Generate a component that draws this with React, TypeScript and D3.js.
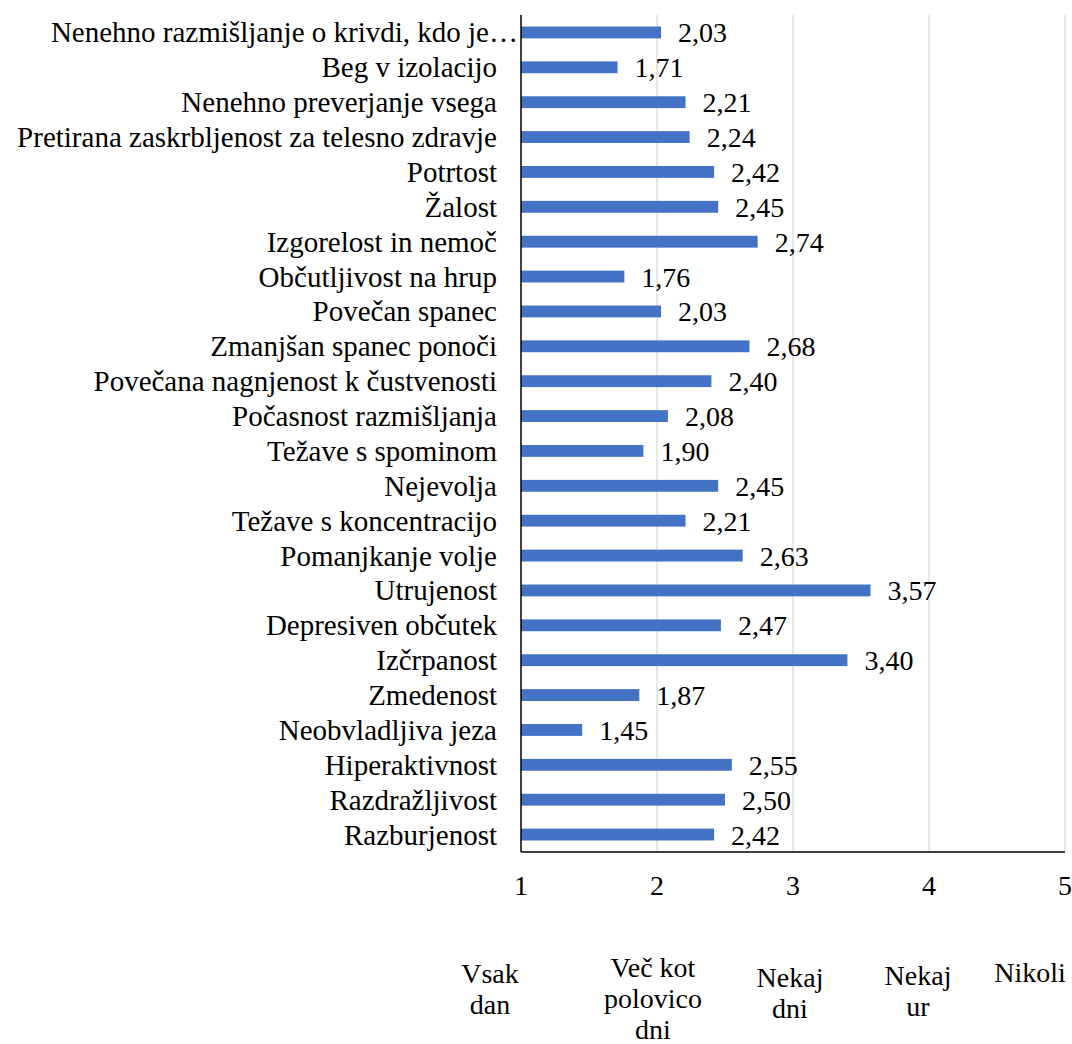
import React, { useEffect, useRef } from "react";
import * as d3 from "d3";

// categories top to bottom
const categories = [
  "Nenehno razmišljanje o krivdi, kdo je…",
  "Beg v izolacijo",
  "Nenehno preverjanje vsega",
  "Pretirana zaskrbljenost za telesno zdravje",
  "Potrtost",
  "Žalost",
  "Izgorelost in nemoč",
  "Občutljivost na hrup",
  "Povečan spanec",
  "Zmanjšan spanec ponoči",
  "Povečana nagnjenost k čustvenosti",
  "Počasnost razmišljanja",
  "Težave s spominom",
  "Nejevolja",
  "Težave s koncentracijo",
  "Pomanjkanje volje",
  "Utrujenost",
  "Depresiven občutek",
  "Izčrpanost",
  "Zmedenost",
  "Neobvladljiva jeza",
  "Hiperaktivnost",
  "Razdražljivost",
  "Razburjenost",
];

const values = [
  2.03, 1.71, 2.21, 2.24, 2.42, 2.45, 2.74, 1.76, 2.03, 2.68, 2.4, 2.08, 1.9,
  2.45, 2.21, 2.63, 3.57, 2.47, 3.4, 1.87, 1.45, 2.55, 2.5, 2.42,
];

const ticks = [1, 2, 3, 4, 5];

// answer scale shown under the axis
const scaleLabels = [
  { tick: 1, lines: ["Vsak", "dan"] },
  { tick: 2, lines: ["Več kot", "polovico", "dni"] },
  { tick: 3, lines: ["Nekaj", "dni"] },
  { tick: 4, lines: ["Nekaj", "ur"] },
  { tick: 5, lines: ["Nikoli"] },
];

const FONT = '"Liberation Serif", "Times New Roman", serif';

export default function App() {
  const ref = useRef<SVGSVGElement>(null);

  useEffect(() => {
    const w = 1072;
    const h = 1044;
    const left = 521;
    const right = 1065;
    const top = 15;
    const bottom = 852;

    const svg = d3.select(ref.current);
    svg.selectAll("*").remove();
    svg.attr("width", w).attr("height", h);

    const x = d3.scaleLinear().domain([1, 5]).range([left, right]);
    const y = d3
      .scaleBand()
      .domain(categories)
      .range([top, bottom])
      .paddingInner(0.66)
      .paddingOuter(0.33);

    // gridlines
    svg
      .append("g")
      .selectAll("line")
      .data(ticks.slice(1))
      .join("line")
      .attr("x1", (d) => x(d))
      .attr("x2", (d) => x(d))
      .attr("y1", top)
      .attr("y2", bottom)
      .attr("stroke", "#d9d9d9")
      .attr("stroke-width", 1.3);

    // bars
    const data = categories.map((c, i) => ({ c, v: values[i] }));
    svg
      .append("g")
      .selectAll("rect")
      .data(data)
      .join("rect")
      .attr("x", x(1))
      .attr("y", (d) => y(d.c)!)
      .attr("width", (d) => x(d.v) - x(1))
      .attr("height", y.bandwidth())
      .attr("fill", "#4472c4");

    // value labels
    svg
      .append("g")
      .selectAll("text")
      .data(data)
      .join("text")
      .attr("x", (d) => x(d.v) + 17)
      .attr("y", (d) => y(d.c)! + y.bandwidth() / 2 + 10)
      .style("font-family", FONT)
      .style("font-size", "28px")
      .attr("fill", "#000")
      .text((d) => d.v.toFixed(2).replace(".", ","));

    // category labels (truncated one lets its ellipsis run up to the axis)
    svg
      .append("g")
      .selectAll("text")
      .data(categories)
      .join("text")
      .attr("x", (d) => left - 24 + (d.endsWith("…") ? 21 : 0))
      .attr("y", (d) => y(d)! + y.bandwidth() / 2 + 10)
      .attr("text-anchor", "end")
      .style("font-family", FONT)
      .style("font-size", "29px")
      .attr("fill", "#000")
      .text((d) => d);

    // axes lines
    svg
      .append("line")
      .attr("x1", left)
      .attr("x2", left)
      .attr("y1", top)
      .attr("y2", bottom)
      .attr("stroke", "#000")
      .attr("stroke-width", 1.5);
    svg
      .append("line")
      .attr("x1", left)
      .attr("x2", right)
      .attr("y1", bottom)
      .attr("y2", bottom)
      .attr("stroke", "#000")
      .attr("stroke-width", 1.5);

    // tick labels
    svg
      .append("g")
      .selectAll("text")
      .data(ticks)
      .join("text")
      .attr("x", (d) => x(d))
      .attr("y", 895)
      .attr("text-anchor", "middle")
      .style("font-family", FONT)
      .style("font-size", "28px")
      .attr("fill", "#000")
      .text((d) => d);

    // scale meaning labels
    const offsets: Record<number, [number, number]> = {
      1: [-31, 983],
      2: [-4, 977],
      3: [-3, 987],
      4: [-11, 985],
      5: [-35, 982],
    };
    const g = svg.append("g");
    scaleLabels.forEach((s) => {
      const [dx, baseY] = offsets[s.tick];
      const t = g
        .append("text")
        .attr("text-anchor", "middle")
        .style("font-family", FONT)
        .style("font-size", "28px")
        .attr("fill", "#000");
      s.lines.forEach((line, i) => {
        t.append("tspan")
          .attr("x", x(s.tick) + dx)
          .attr("y", baseY + i * 31)
          .text(line);
      });
    });
  }, []);

  return (
    <div style={{ position: "absolute", left: 0, top: 0 }}>
      <svg ref={ref} />
    </div>
  );
}
